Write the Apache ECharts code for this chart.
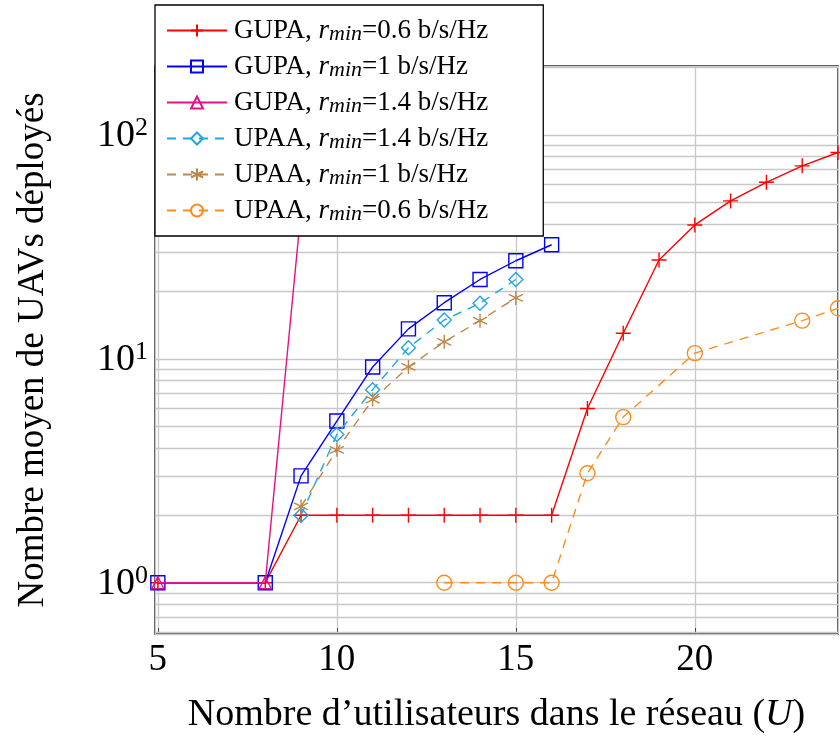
<!DOCTYPE html>
<html>
<head>
<meta charset="utf-8">
<script src="https://cdn.jsdelivr.net/npm/echarts@6/dist/echarts.min.js"></script>
<style>
  html, body { margin: 0; padding: 0; background: #fff; }
  #chart { width: 840px; height: 740px; }
</style>
</head>
<body>
<div id="chart"></div>
<script>
// données
const schemes = ['GUPA', 'GUPA', 'GUPA', 'UPAA', 'UPAA', 'UPAA'];
const rminValues = ['0.6', '1', '1.4', '1.4', '1', '0.6'];

const gupa06X = [5, 8, 9, 10, 11, 12, 13, 14, 15, 16, 17, 18, 19, 20, 21, 22, 23, 24];
const gupa06Y = [1, 1, 2, 2, 2, 2, 2, 2, 2, 2, 6, 13, 27.6, 39.6, 50.7, 61.4, 72.7, 83.4];
const gupa1X = [5, 8, 9, 10, 11, 12, 13, 14, 15, 16];
const gupa1Y = [1, 1, 3, 5.27, 9.19, 13.6, 17.8, 22.6, 27.4, 32.3];
const gupa14X = [5, 8, 9];
const gupa14Y = [1, 1, 46];
const upaa14X = [9, 10, 11, 12, 13, 14, 15];
const upaa14Y = [2, 4.59, 7.28, 11.2, 14.9, 17.7, 22.6];
const upaa1X = [9, 10, 11, 12, 13, 14, 15];
const upaa1Y = [2.19, 3.92, 6.57, 9.19, 11.9, 14.8, 18.7];
const upaa06X = [13, 15, 16, 17, 18, 20, 23, 24];
const upaa06Y = [1, 1, 1, 3.08, 5.49, 10.6, 14.8, 16.8];

// graduations secondaires de l'axe log (2..9 par décade)
const yMinorTicks = [0.6, 0.7, 0.8, 0.9, 2, 3, 4, 5, 6, 7, 8, 9, 20, 30, 40, 50, 60, 70, 80, 90, 200];

const FONT = 'Liberation Serif';
const plusPath = 'path://M0,-10L0,10M-10,0L10,0';
const starPath = 'path://M0,-10L0,10M-8.66,-5L8.66,5M-8.66,5L8.66,-5';

const zip = (xs, ys) => xs.map((x, i) => [x, ys[i]]);

const seriesStyle = [
    { x: gupa06X, y: gupa06Y, color: '#ff0000', symbol: plusPath, size: 15, dash: 'solid' },
    { x: gupa1X, y: gupa1Y, color: '#0000ff', symbol: 'rect', size: 14, dash: 'solid' },
    { x: gupa14X, y: gupa14Y, color: '#e6118a', symbol: 'triangle', size: 12, dash: 'solid' },
    { x: upaa14X, y: upaa14Y, color: '#1ea7e1', symbol: 'diamond', size: 14, dash: [9, 7] },
    { x: upaa1X, y: upaa1Y, color: '#c08548', symbol: starPath, size: 14, dash: [9, 7] },
    { x: upaa06X, y: upaa06Y, color: '#ff8c1a', symbol: 'circle', size: 15, dash: [9, 7] },
];

const names = schemes.map((s, i) => `${s}, rmin=${rminValues[i]} b/s/Hz`);

const chartDom = document.getElementById('chart');
const myChart = echarts.init(chartDom);

const series = seriesStyle.map((s, i) => ({
    name: names[i],
    type: 'line',
    data: zip(s.x, s.y),
    symbol: s.symbol,
    symbolSize: s.size,
    showAllSymbol: true,
    clip: true,
    z: 3 + i,
    lineStyle: { color: s.color, width: 1.4, type: s.dash },
    itemStyle: { color: 'rgba(0,0,0,0)', borderColor: s.color, borderWidth: 1.4 },
    emphasis: { disabled: true },
    animation: false,
}));

// grille secondaire via markLine
series.push({
    name: 'grid',
    type: 'line',
    data: [],
    z: 1,
    silent: true,
    markLine: {
        z: 1,
        silent: true,
        symbol: ['none', 'none'],
        label: { show: false },
        lineStyle: { color: '#c8c8c8', width: 1.3, type: 'solid' },
        animation: false,
        data: yMinorTicks.map(v => ({ yAxis: v })),
    },
});

const option = {
    animation: false,
    backgroundColor: '#fff',
    grid: {
        left: 155, right: 2, top: 66, bottom: 106,
        show: true, borderColor: '#000', borderWidth: 1.3, backgroundColor: 'transparent',
    },
    legend: {
        data: names,
        orient: 'vertical',
        left: 155, top: 5,
        padding: [12, 55, 11, 11],
        itemGap: 8,
        itemWidth: 60, itemHeight: 15,
        backgroundColor: '#fff',
        borderColor: '#000', borderWidth: 1.3,
        z: 10,
        formatter: name => {
            const i = names.indexOf(name);
            return `{t|${schemes[i]}, }{it|r}{sub|min}{t|=${rminValues[i]} b/s/Hz}`;
        },
        textStyle: {
            fontFamily: FONT,
            padding: [0, 0, 0, 2],
            rich: {
                t: { fontFamily: FONT, fontSize: 27, color: '#000', lineHeight: 29, verticalAlign: 'middle' },
                it: { fontFamily: FONT, fontSize: 27, fontStyle: 'italic', color: '#000', lineHeight: 29, verticalAlign: 'middle' },
                sub: { fontFamily: FONT, fontSize: 22, fontStyle: 'italic', color: '#000', lineHeight: 29, verticalAlign: 'bottom' },
            },
        },
    },
    xAxis: {
        type: 'value',
        min: 4.92, max: 24,
        splitNumber: 4,
        name: "Nombre d\u2019utilisateurs dans le réseau ({i|U})",
        nameLocation: 'middle',
        nameGap: 62,
        nameTextStyle: {
            fontFamily: FONT, fontSize: 38, color: '#000',
            rich: { i: { fontFamily: FONT, fontSize: 38, fontStyle: 'italic', color: '#000' } },
        },
        axisLine: { show: false },
        axisTick: { show: true, inside: true, length: 6, lineStyle: { color: '#444' } },
        axisLabel: {
            fontFamily: FONT, fontSize: 37, color: '#000', margin: 8,
            showMinLabel: false, showMaxLabel: false,
            formatter: v => (Number.isInteger(v) ? String(v) : ''),
        },
        splitLine: { show: true, lineStyle: { color: '#c8c8c8', width: 1.3 } },
    },
    yAxis: {
        type: 'log',
        logBase: 10,
        min: 0.59, max: 203,
        name: 'Nombre moyen de UAVs déployés',
        nameLocation: 'middle',
        nameGap: 103,
        nameTextStyle: { fontFamily: FONT, fontSize: 37, color: '#000' },
        axisLine: { show: false },
        axisTick: { show: false },
        axisLabel: {
            margin: 7,
            showMinLabel: false, showMaxLabel: false,
            formatter: v => {
                const e = Math.round(Math.log10(v));
                if (Math.abs(Math.log10(v) - e) > 1e-6) return '';
                return `{b|10}{s|${e}}`;
            },
            rich: {
                b: { fontFamily: FONT, fontSize: 38, color: '#000', lineHeight: 40, verticalAlign: 'bottom' },
                s: { fontFamily: FONT, fontSize: 26, color: '#000', lineHeight: 40, verticalAlign: 'top' },
            },
        },
        splitLine: { show: true, lineStyle: { color: '#c8c8c8', width: 1.3 } },
    },
    series: series,
};

option && myChart.setOption(option);

new ResizeObserver(() => myChart.resize()).observe(chartDom);
</script>
</body>
</html>
